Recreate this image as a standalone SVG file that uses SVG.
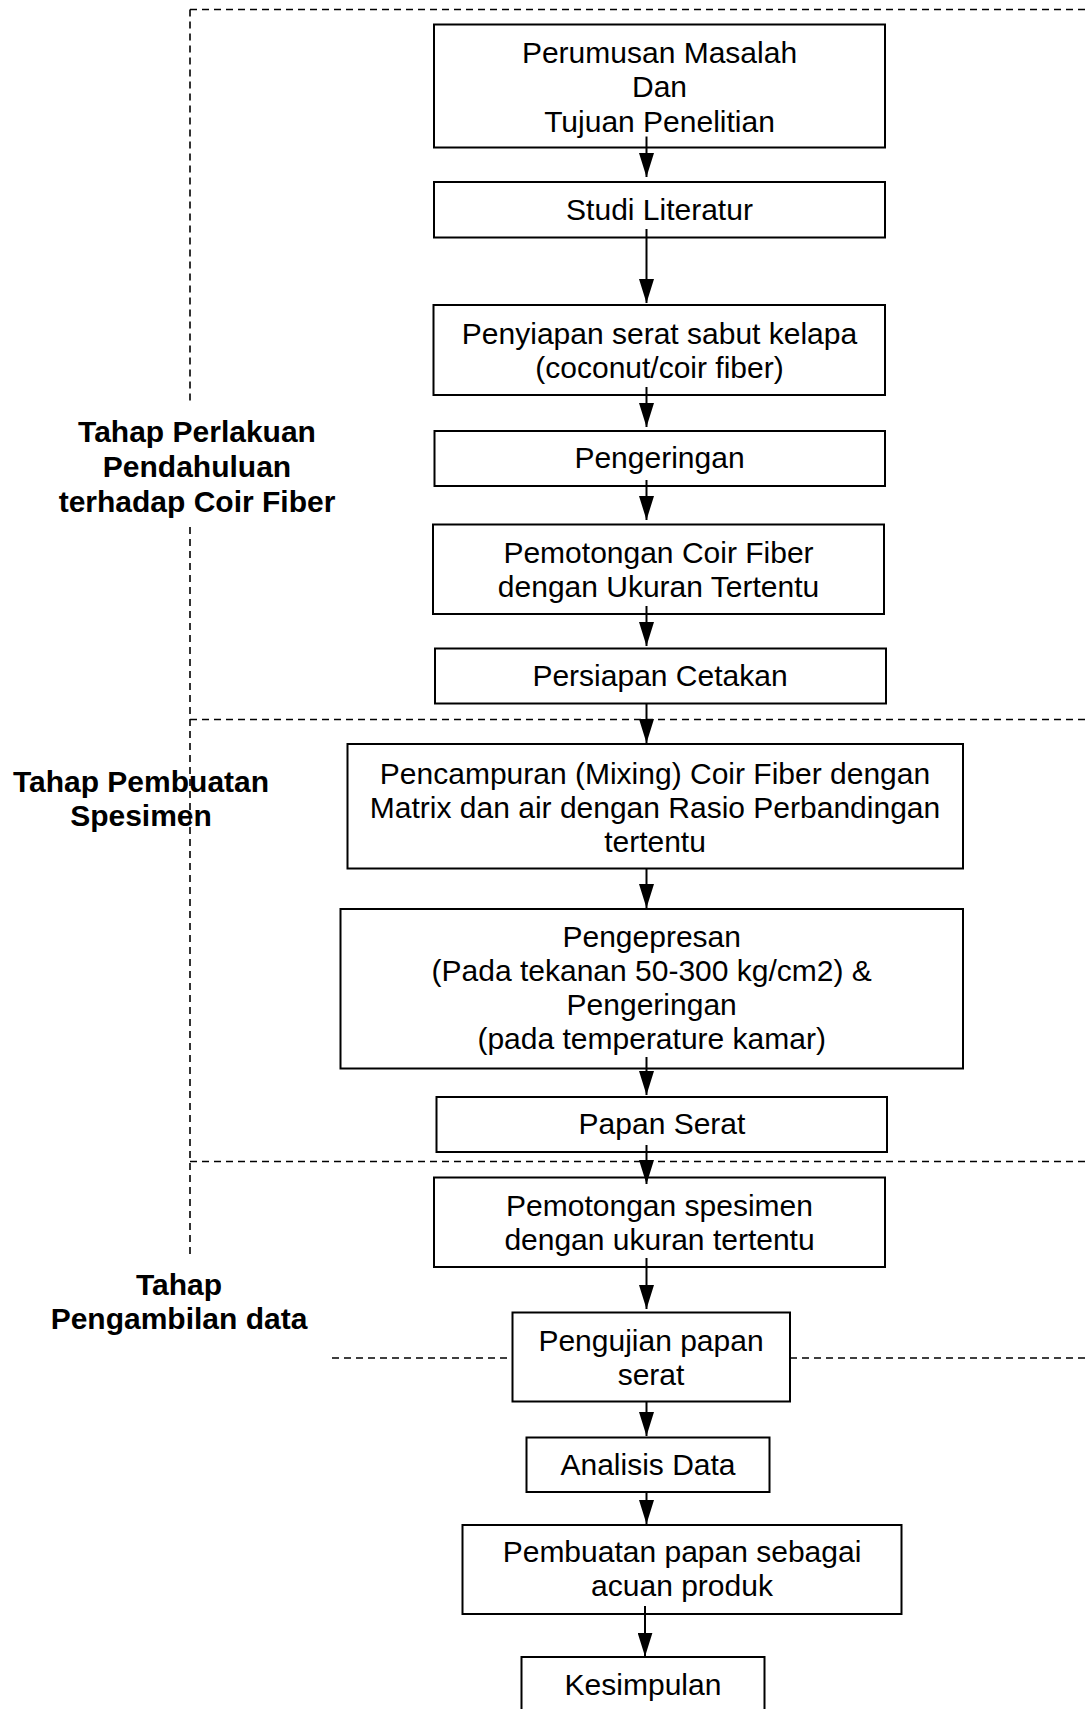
<svg xmlns="http://www.w3.org/2000/svg" width="1090" height="1709" viewBox="0 0 1090 1709">
<defs>
<style>
.box{fill:#fff;stroke:#000;stroke-width:2}
.t{font-family:"Liberation Sans",Arial,sans-serif;font-size:30px;fill:#000;text-anchor:middle}
.lbl{font-family:"Liberation Sans",Arial,sans-serif;font-size:30px;font-weight:bold;fill:#000;text-anchor:middle}
.dash{fill:none;stroke:#000;stroke-width:1.6;stroke-dasharray:7 5}
.arr{fill:none;stroke:#000;stroke-width:2;marker-end:url(#ah)}
</style>
<marker id="ah" markerUnits="userSpaceOnUse" markerWidth="24" markerHeight="15" refX="24" refY="7.5" orient="auto">
<path d="M0,0 L24,7.5 L0,15 Z" fill="#000"/>
</marker>
</defs>
<rect width="1090" height="1709" fill="#fff"/>
<g id="phase-lines">
<path class="dash" d="M190,9.5 H1090"/>
<path class="dash" d="M190,9.5 V403"/>
<path class="dash" d="M190,527 V1254"/>
<path class="dash" d="M190,719.5 H1090"/>
<path class="dash" d="M190,1161.5 H1090"/>
<path class="dash" d="M332,1358 H512"/>
<path class="dash" d="M790,1358 H1090"/>
</g>
<g id="phase-labels">
<text class="lbl" x="197" y="442">Tahap Perlakuan</text>
<text class="lbl" x="197" y="477">Pendahuluan</text>
<text class="lbl" x="197" y="512">terhadap Coir Fiber</text>
<text class="lbl" x="141" y="792">Tahap Pembuatan</text>
<text class="lbl" x="141" y="826">Spesimen</text>
<text class="lbl" x="179" y="1295">Tahap</text>
<text class="lbl" x="179" y="1329">Pengambilan data</text>
</g>
<g id="n1"><rect class="box" x="434" y="24.5" width="451" height="123"/>
<text class="t" x="659.5" y="62.5">Perumusan Masalah</text>
<text class="t" x="659.5" y="97">Dan</text>
<text class="t" x="659.5" y="131.5">Tujuan Penelitian</text></g>
<g id="n2"><rect class="box" x="434" y="182" width="451" height="55.5"/>
<text class="t" x="659.5" y="220">Studi Literatur</text></g>
<g id="n3"><rect class="box" x="433.5" y="305" width="451.5" height="90"/>
<text class="t" x="659.5" y="343.5">Penyiapan serat sabut kelapa</text>
<text class="t" x="659.5" y="377.5">(coconut/coir fiber)</text></g>
<g id="n4"><rect class="box" x="434.5" y="431" width="450.5" height="55"/>
<text class="t" x="659.5" y="468">Pengeringan</text></g>
<g id="n5"><rect class="box" x="433" y="524.5" width="451" height="89.5"/>
<text class="t" x="658.5" y="562.5">Pemotongan Coir Fiber</text>
<text class="t" x="658.5" y="596.5">dengan Ukuran Tertentu</text></g>
<g id="n6"><rect class="box" x="435" y="648.5" width="451" height="55"/>
<text class="t" x="660" y="686">Persiapan Cetakan</text></g>
<g id="n7"><rect class="box" x="347.5" y="744" width="615.5" height="124.5"/>
<text class="t" x="655" y="783.5">Pencampuran (Mixing) Coir Fiber dengan</text>
<text class="t" x="655" y="817.5">Matrix dan air dengan Rasio Perbandingan</text>
<text class="t" x="655" y="851.5">tertentu</text></g>
<g id="n8"><rect class="box" x="340.5" y="909" width="622.5" height="159.5"/>
<text class="t" x="651.7" y="947">Pengepresan</text>
<text class="t" x="651.7" y="981">(Pada tekanan 50-300 kg/cm2) &amp;</text>
<text class="t" x="651.7" y="1015">Pengeringan</text>
<text class="t" x="651.7" y="1049">(pada temperature kamar)</text></g>
<g id="n9"><rect class="box" x="436.5" y="1097" width="450.5" height="55"/>
<text class="t" x="662" y="1133.5">Papan Serat</text></g>
<g id="n10"><rect class="box" x="434" y="1177.5" width="451" height="89.5"/>
<text class="t" x="659.5" y="1216">Pemotongan spesimen</text>
<text class="t" x="659.5" y="1250">dengan ukuran tertentu</text></g>
<g id="n11"><rect class="box" x="512.5" y="1312.5" width="277.5" height="89"/>
<text class="t" x="651" y="1350.5">Pengujian papan</text>
<text class="t" x="651" y="1384.5">serat</text></g>
<g id="n12"><rect class="box" x="526.5" y="1437.5" width="243" height="54.5"/>
<text class="t" x="648" y="1475">Analisis Data</text></g>
<g id="n13"><rect class="box" x="462.5" y="1525" width="439" height="89"/>
<text class="t" x="682" y="1562">Pembuatan papan sebagai</text>
<text class="t" x="682" y="1596">acuan produk</text></g>
<g id="n14"><rect class="box" x="521.5" y="1657" width="243" height="60"/>
<text class="t" x="643" y="1695">Kesimpulan</text></g>
<g id="connectors">
<path class="arr" d="M646.5,136.5 V177"/>
<path class="arr" d="M646.5,229 V303"/>
<path class="arr" d="M646.5,387 V427"/>
<path class="arr" d="M646.5,480 V520"/>
<path class="arr" d="M646.5,606 V646"/>
<path class="arr" d="M646.5,703 V743"/>
<path class="arr" d="M646.5,868 V908"/>
<path class="arr" d="M646.5,1057 V1095"/>
<path class="arr" d="M646.5,1145 V1184"/>
<path class="arr" d="M646.5,1258 V1309"/>
<path class="arr" d="M646.5,1401.5 V1436"/>
<path class="arr" d="M646.5,1492 V1524"/>
<path class="arr" d="M645,1606 V1656.5"/>
</g>
</svg>
